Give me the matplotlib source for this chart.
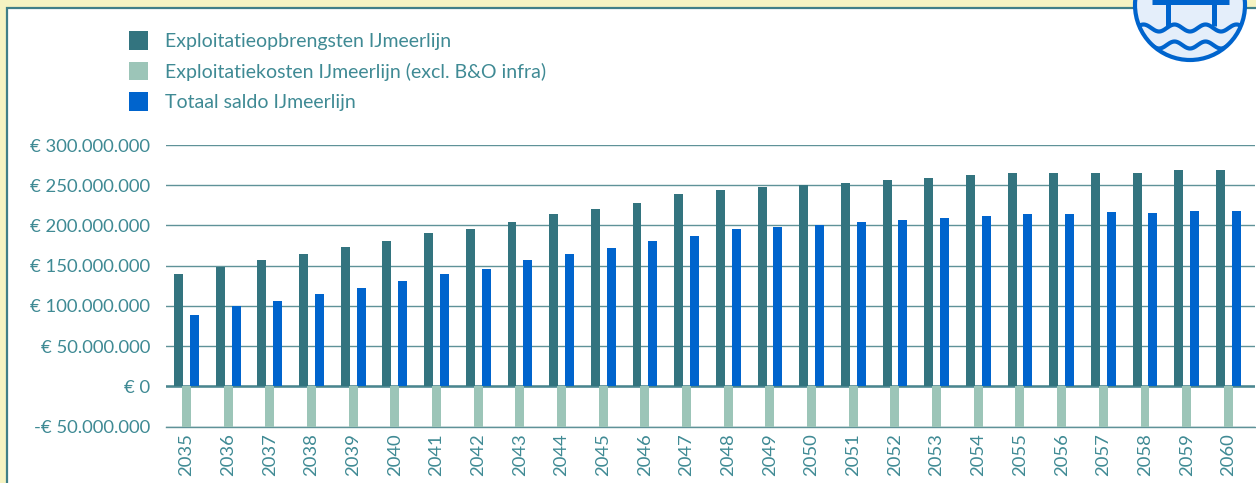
import matplotlib
matplotlib.use("Agg")
import matplotlib.pyplot as plt
import numpy as np
from matplotlib.patches import Circle, Rectangle

years = list(range(2035, 2061))
opbrengsten = [140, 148, 157, 165, 173, 181, 190, 195, 204, 214, 220, 228, 239,
               244, 248, 250, 253, 257, 259, 263, 265, 265, 265, 265, 269, 269]
kosten = [-50] * 26
saldo = [89, 100, 106, 115, 122, 131, 139, 146, 157, 165, 172, 181, 187,
         196, 198, 201, 204, 207, 209, 212, 214, 214, 217, 216, 218, 218]
y_ticks = [-50, 0, 50, 100, 150, 200, 250, 300]
y_labels = ["-€ 50.000.000", "€ 0", "€ 50.000.000", "€ 100.000.000", "€ 150.000.000",
            "€ 200.000.000", "€ 250.000.000", "€ 300.000.000"]
legend_labels = ["Exploitatieopbrengsten IJmeerlijn",
                 "Exploitatiekosten IJmeerlijn (excl. B&O infra)",
                 "Totaal saldo IJmeerlijn"]

TEXT = "#3f8a94"
TEAL = "#33747f"
GREEN = "#9cc5b8"
BLUE = "#0064cd"
GRID = "#5f9298"
W, H = 1256, 483

plt.rcParams["font.family"] = ["Lato", "DejaVu Sans"]

fig = plt.figure(figsize=(W / 100, H / 100), dpi=100, facecolor="#f5f3c2")

# frame and logo live in a pixel-coordinate overlay
bg = fig.add_axes([0, 0, 1, 1], zorder=0)
bg.set_xlim(0, W)
bg.set_ylim(H, 0)
bg.axis("off")
bg.add_patch(Rectangle((6.5, 7.5), W + 20, H + 20, facecolor="white", edgecolor="#3f7f88", linewidth=1.6))

ax = fig.add_axes([165.7 / W, 1 - 426.5 / H, (1255 - 165.7) / W, (426.5 - 145) / H], zorder=1)
ax.patch.set_alpha(0)
x = np.arange(len(years))
ax.bar(x - 0.19, opbrengsten, 0.215, color=TEAL, zorder=3, label=legend_labels[0])
ax.bar(x, kosten, 0.215, color=GREEN, zorder=3, label=legend_labels[1])
ax.bar(x + 0.19, saldo, 0.215, color=BLUE, zorder=3, label=legend_labels[2])

ax.set_xlim(-0.5, 25.64)
ax.set_ylim(-50, 300)
ax.set_yticks(y_ticks, y_labels)
ax.set_xticks(x, years, rotation=90)
ax.tick_params(axis="y", length=0, pad=11, labelsize=13.3, labelcolor=TEXT)
ax.tick_params(axis="x", length=0, pad=5, labelsize=13.3, labelcolor=TEXT)
ax.grid(axis="y", color=GRID, linewidth=1.0, zorder=1)
ax.set_axisbelow(True)
for side in ax.spines:
    ax.spines[side].set_visible(False)
ax.axhline(0, color="#4a868f", linewidth=1.8, zorder=2)
ax.axhline(-50, color=GRID, linewidth=1.0, zorder=2, clip_on=False)

leg_handles, leg_texts = ax.get_legend_handles_labels()
fig.legend(leg_handles, leg_texts, loc="upper left", bbox_to_anchor=(129 / W, 1 - 31 / H),
           bbox_transform=fig.transFigure, frameon=False, fontsize=14, labelcolor=TEXT,
           handlelength=0.98, handleheight=1.1, handletextpad=0.86, labelspacing=0.6,
           borderpad=0, borderaxespad=0)

# logo, cut off by the top edge
cx, cy, r = 1190, 5, 55
top = fig.add_axes([0, 0, 1, 1], zorder=2)
top.set_xlim(0, W)
top.set_ylim(H, 0)
top.axis("off")
disc = Circle((cx, cy), r, facecolor="#e4eefa", edgecolor=BLUE, linewidth=3)
top.add_patch(disc)
clip = Circle((cx, cy), r, transform=top.transData)
top.plot([1168, 1168], [0, 26], color=BLUE, lw=3.6, solid_capstyle="butt")
top.plot([1214, 1214], [0, 26], color=BLUE, lw=3.6, solid_capstyle="butt")
top.plot([1152, 1229], [1.5, 1.5], color=BLUE, lw=3.6, solid_capstyle="butt")
wave_x = np.linspace(cx - r, cx + r, 200)
for base in (28, 45):
    line, = top.plot(wave_x, base + 3.5 * np.cos((wave_x - cx) * 2 * np.pi / 31), color=BLUE, lw=3)
    line.set_clip_path(clip)

fig.savefig("out.png", dpi=100, facecolor=fig.get_facecolor())
